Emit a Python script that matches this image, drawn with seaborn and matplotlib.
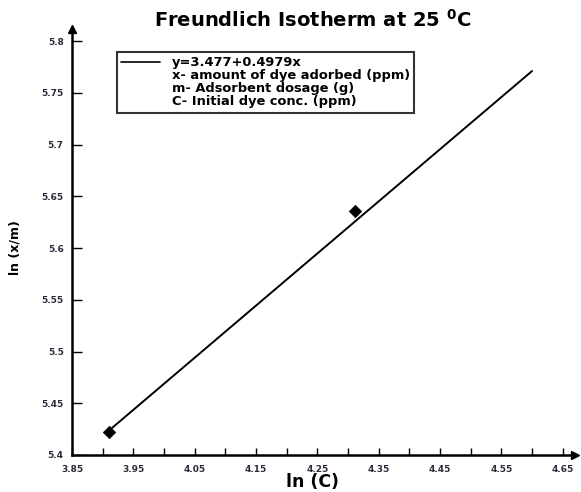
import matplotlib
matplotlib.use("Agg")
import matplotlib.pyplot as plt
import seaborn as sns
import pandas as pd
from matplotlib.lines import Line2D
from matplotlib.ticker import FixedLocator

# Data
ln_C = [3.91, 4.312]
ln_xm = [5.422, 5.636]
fit_x = [3.915, 4.60]
fit_y = [5.426, 5.771]
fit_label = "y=3.477+0.4979x"
notes = ["x- amount of dye adorbed (ppm)", "m- Adsorbent dosage (g)", "C- Initial dye conc. (ppm)"]
x_ticks = [3.85, 3.95, 4.05, 4.15, 4.25, 4.35, 4.45, 4.55, 4.65]
x_minor = [3.9, 4.0, 4.1, 4.2, 4.3, 4.4, 4.5, 4.6]
y_ticks = [5.4, 5.45, 5.5, 5.55, 5.6, 5.65, 5.7, 5.75, 5.8]

sns.set_style("white")
plt.rcParams['font.family'] = ['DejaVu Sans']
plt.rcParams['mathtext.fontset'] = 'dejavusans'
plt.rcParams['text.color'] = 'black'

W, H = 581, 492
fig = plt.figure(figsize=(W / 100, H / 100), dpi=100)
ax = fig.add_axes([72 / W, (H - 455) / H, (575 - 72) / W, (455 - 29) / H])

pts = pd.DataFrame({"lnC": ln_C, "lnxm": ln_xm})
fit = pd.DataFrame({"x": fit_x, "y": fit_y})
sns.lineplot(data=fit, x="x", y="y", color="black", lw=1.4, ax=ax)
sns.scatterplot(data=pts, x="lnC", y="lnxm", marker="D", s=40, color="black",
                edgecolor="black", ax=ax, zorder=5)
ax.set_xlabel("")
ax.set_ylabel("")

ax.set_xlim(3.85, 4.67)
ax.set_ylim(5.4, 5.8116)
ax.xaxis.set_major_locator(FixedLocator(x_ticks))
ax.xaxis.set_minor_locator(FixedLocator(x_minor))
ax.yaxis.set_major_locator(FixedLocator(y_ticks))
ax.set_xticklabels([f"{v:.2f}" for v in x_ticks])
ax.set_yticklabels([f"{v:g}" for v in y_ticks])

for s in ["top", "right"]:
    ax.spines[s].set_visible(False)
for s in ["left", "bottom"]:
    ax.spines[s].set_linewidth(1.8)
    ax.spines[s].set_color("black")

ax.tick_params(axis="x", which="both", direction="in", length=5, width=1, colors="black",
               labelsize=6.5, labelcolor="#2b2b3a", pad=7, bottom=True)
ax.tick_params(axis="y", which="major", direction="in", length=7, width=1, colors="black",
               labelsize=6.5, labelcolor="#2b2b3a", pad=6, left=True)
for lab in ax.get_xticklabels() + ax.get_yticklabels():
    lab.set_fontweight("bold")

# axis arrows
ax.plot(1, 0, ">", color="black", markersize=6, transform=ax.transAxes, clip_on=False)
ax.plot(0, 1, "^", color="black", markersize=6, transform=ax.transAxes, clip_on=False)

fig.text(313 / W, 1 - 482 / H, "ln (C)", ha="center", va="center", fontsize=12.5,
         fontweight="bold", color="black")
fig.text(15 / W, 1 - 248 / H, "ln (x/m)", ha="center", va="center", rotation=90,
         fontsize=9, fontweight="bold", color="black")

fig.text(313 / W, 1 - 20 / H, r"Freundlich Isotherm at 25 $^{\mathbf{0}}$C", ha="center", va="center",
         fontsize=14, fontweight="bold", color="black")

handles = [Line2D([0], [0], color="black", lw=1.2)] + [Line2D([0], [0], color="none") for _ in notes]
labels = [fit_label] + notes
leg = ax.legend(handles, labels, loc="upper left", bbox_to_anchor=(117 / W, 1 - 52 / H),
                bbox_transform=fig.transFigure, borderaxespad=0,
                frameon=True, fancybox=False, edgecolor="black", handlelength=3.0,
                handletextpad=0.85, labelspacing=0.0, borderpad=0.33,
                prop={"weight": "bold", "size": 9.4})
leg.get_frame().set_linewidth(1.5)
for t in leg.get_texts():
    t.set_color("black")

fig.savefig("out.png", dpi=100)
